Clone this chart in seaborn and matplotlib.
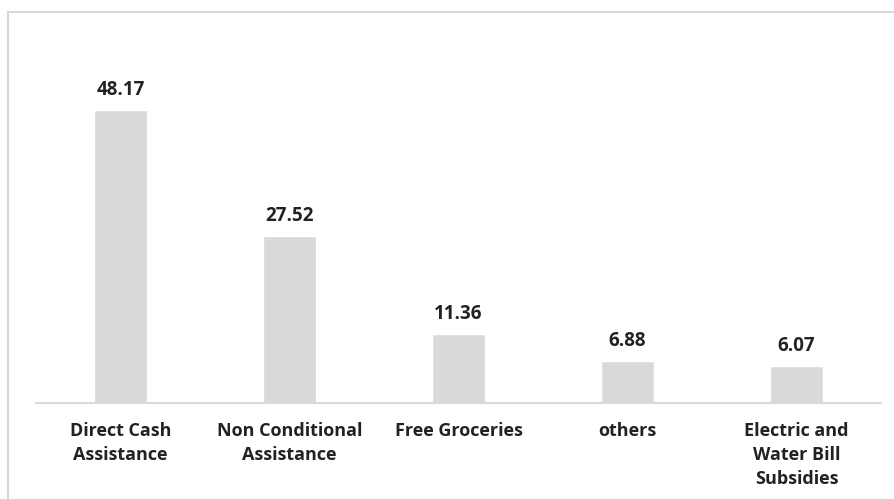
import matplotlib
matplotlib.use("Agg")
import matplotlib.pyplot as plt
import pandas as pd
import seaborn as sns
from matplotlib.patches import Rectangle

# Chart data
categories = ['Direct Cash\nAssistance', 'Non Conditional\nAssistance', 'Free Groceries',
              'others', 'Electric and\nWater Bill\nSubsidies']
values = [48.17, 27.52, 11.36, 6.88, 6.07]

df = pd.DataFrame({'category': categories, 'value': values})

sns.set_theme(style='white')
plt.rcParams['font.family'] = ['Open Sans', 'DejaVu Sans']

fig = plt.figure(figsize=(8.95, 4.99), dpi=100)
ax = fig.add_axes([36 / 895, 96 / 499, 845 / 895, 365 / 499])

# bars
sns.barplot(x='category', y='value', data=df, color='#d9d9d9', width=0.31,
            saturation=1, ax=ax)

# value labels on top of bars
ax.bar_label(ax.containers[0], fmt='%.2f', padding=7, fontsize=13.5,
             fontweight='bold', color='#222222')

ax.set_xlim(-0.5, 4.5)
ax.set_ylim(0, 60)
ax.set_xlabel('')
ax.set_ylabel('')
ax.set_yticks([])

# only bottom axis line
for side in ['top', 'right', 'left']:
    ax.spines[side].set_visible(False)
ax.spines['bottom'].set_color('#d9d9d9')
ax.spines['bottom'].set_linewidth(1.5)

ax.tick_params(axis='x', length=0, pad=14)
for lbl in ax.get_xticklabels():
    lbl.set_fontsize(13)
    lbl.set_fontweight('bold')
    lbl.set_color('#222222')
    lbl.set_linespacing(1.42)
    lbl.set_verticalalignment('top')

# light border around the chart area
fig.patches.append(Rectangle((8 / 895, -0.1), 1.0, 1 - 12 / 499 + 0.1,
                             transform=fig.transFigure, fill=False,
                             edgecolor='#d9d9d9', linewidth=1.5))

plt.savefig('out.png', dpi=100)
